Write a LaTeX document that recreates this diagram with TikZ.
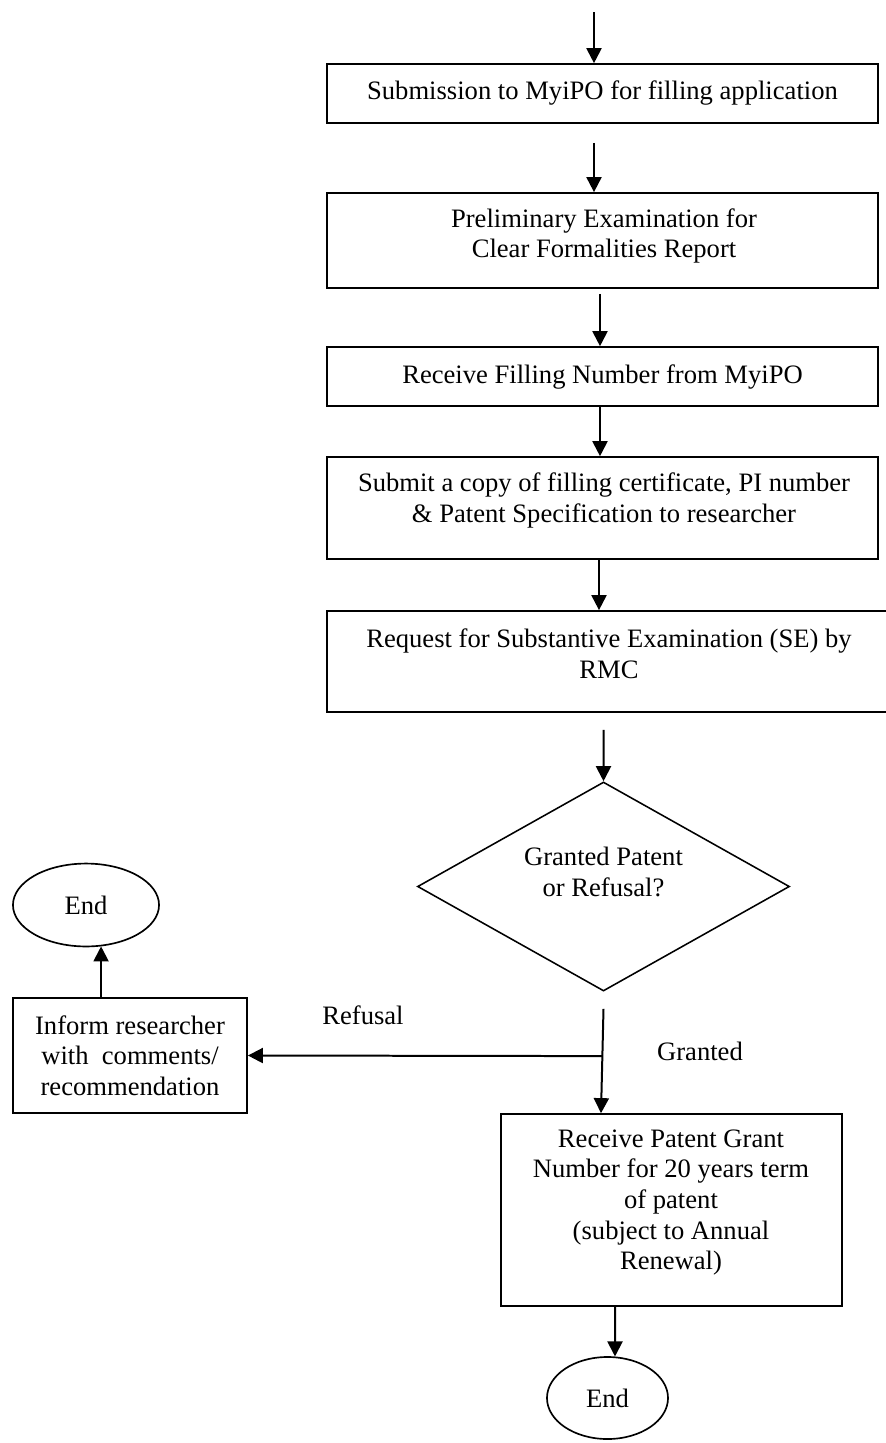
\documentclass[tikz,border=0pt]{standalone}
\usepackage{fontspec}
\setmainfont{Liberation Serif}
\usetikzlibrary{arrows.meta,shapes.geometric,calc}
\begin{document}
\begin{tikzpicture}[x=0.4511pt,y=-0.4511pt,
  font=\fontsize{12}{13.8}\selectfont,
  box/.style={draw,line width=0.75pt,inner sep=0pt,align=center},
  txt/.style={inner sep=0pt,align=center},
  term/.style={draw,ellipse,line width=0.75pt,inner sep=0pt},
  decision/.style={draw,diamond,line width=0.7pt,inner sep=0pt},
  arr/.style={line width=0.9pt,-{Triangle[length=6.8pt,width=6.8pt]}}]
\useasboundingbox (0,0) rectangle (885,1443);

% main column of process boxes
\node[box,minimum width=248.6pt,minimum height=26.6pt] (b1) at (602.5,93.5)
  {Submission to MyiPO for filling application};
\node[box,minimum width=248.6pt,minimum height=42.9pt] (b2) at (602.5,240.5) {};
\node[txt] (t2) at (604,236) {Preliminary Examination for\\Clear Formalities Report};
\node[box,minimum width=248.6pt,minimum height=26.6pt] (b3) at (602.5,376.5)
  {Receive Filling Number from MyiPO};
\node[box,minimum width=248.6pt,minimum height=46pt] (b4) at (602.5,508) {};
\node[txt] (t4) at (604,500.5) {Submit a copy of filling certificate, PI number\\\& Patent Specification to researcher};
\node[box,minimum width=254.4pt,minimum height=45.6pt] (b5) at (609,661.5) {};
\node[txt] (t5) at (609,654) {Request for Substantive Examination (SE) by\\RMC};

% decision
\node[decision,minimum width=167.8pt,minimum height=94.3pt] (dec) at (603.5,886.5) {};
\node[txt] (td) at (603.5,872) {Granted Patent\\or Refusal?};

% refusal branch
\node[box,minimum width=105.6pt,minimum height=51.9pt] (inf) at (130,1055.5)
  {Inform researcher\\with\ \ comments/\\recommendation};
\node[term,minimum width=65.9pt,minimum height=37.4pt] (ell1) at (86,905) {End};

% granted branch
\node[box,minimum width=153.8pt,minimum height=86.6pt] (b6) at (671.5,1210) {};
\node[txt] (t6) at (671,1202.5) {Receive Patent Grant\\Number for 20 years term\\of patent\\(subject to Annual\\Renewal)};
\node[term,minimum width=54.6pt,minimum height=37pt] (ell2) at (607.5,1398) {End};

% branch labels
\node[txt] (lref) at (363,1015) {Refusal};
\node[txt] (lgr) at (700,1051) {Granted};

% connectors
\coordinate (top) at (594,12);
\draw[arr] (top) -- (top |- b1.north);
\draw[arr] ($(b1.south)+(-8.5,19)$) -- ($(b2.north)+(-8.5,0)$);
\draw[arr] ($(b2.south)+(-2.5,5)$) -- ($(b3.north)+(-2.5,0)$);
\draw[arr] ($(b3.south)+(-2.5,0)$) -- ($(b4.north)+(-2.5,0)$);
\draw[arr] ($(b4.south)+(-3.5,0)$) -- ($(b5.north)+(-10,0)$);
\draw[arr] ($(b5.south)+(-5.5,17)$) -- (dec.north);
\coordinate (gtop) at ($(dec.south)+(0,17)$);
\coordinate (gbot) at ($(b6.north)+(-70.5,0)$);
\coordinate (split) at ($(gtop)!0.453!(gbot)$);
\draw[arr] (gtop) -- (gbot);
\draw[arr] (split) -- (inf.east);
\draw[arr] (inf.north -| ell1.-70) -- (ell1.-70);
\draw[arr] ($(b6.south)+(-56.5,0)$) -- ($(ell2.north)+(7.5,0.3)$);
\end{tikzpicture}
\end{document}
